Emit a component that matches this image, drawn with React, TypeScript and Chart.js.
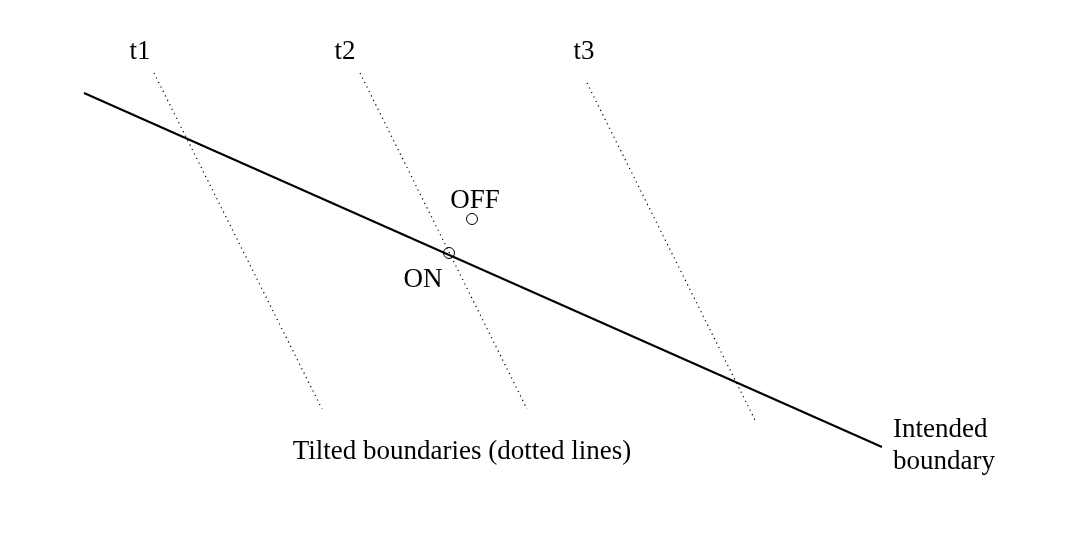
import React, { useEffect, useRef } from 'react';
import { Chart, registerables, Plugin } from 'chart.js';

Chart.register(...registerables);

// diagram space is the page itself: x 0..1092, y 0..544 (y grows downward)
const boundaryX = [84, 882];
const boundaryY = [93, 447];

const tilt1X = [154, 322];
const tilt1Y = [73, 409];
const tilt2X = [360, 527];
const tilt2Y = [73, 409];
const tilt3X = [587, 755];
const tilt3Y = [83, 420];

const pointNames = ['ON', 'OFF'];
const pointX = [449, 472];
const pointY = [253, 219];

const labelTexts = ['t1', 't2', 't3', 'OFF', 'ON', 'Tilted boundaries (dotted lines)', 'Intended', 'boundary'];
const labelX = [140, 345, 584, 475, 423, 462, 893, 893];
const labelY = [59, 59, 59, 208, 287, 459, 437, 469];
const labelAlign: CanvasTextAlign[] = ['center', 'center', 'center', 'center', 'center', 'center', 'left', 'left'];

const toPoints = (xs: number[], ys: number[]) => xs.map((x, i) => ({ x, y: ys[i] }));

const labelsPlugin: Plugin = {
  id: 'diagramLabels',
  afterDatasetsDraw(chart) {
    const { ctx, scales } = chart;
    ctx.save();
    ctx.fillStyle = '#000';
    ctx.font = '27px "Liberation Serif", "Times New Roman", serif';
    ctx.textBaseline = 'alphabetic';
    labelTexts.forEach((t, i) => {
      ctx.textAlign = labelAlign[i];
      ctx.fillText(t, scales.x.getPixelForValue(labelX[i]), scales.y.getPixelForValue(labelY[i]));
    });
    ctx.restore();
  },
};

const dotted = (xs: number[], ys: number[]) => ({
  data: toPoints(xs, ys),
  showLine: true,
  borderColor: '#000',
  borderWidth: 1.2,
  borderDash: [1.2, 3.8],
  pointRadius: 0,
});

const App: React.FC = () => {
  const canvasRef = useRef<HTMLCanvasElement | null>(null);
  const chartRef = useRef<Chart | null>(null);

  useEffect(() => {
    document.body.style.margin = '0';
    if (!canvasRef.current) return;
    if (chartRef.current) chartRef.current.destroy();

    chartRef.current = new Chart(canvasRef.current, {
      type: 'scatter',
      data: {
        datasets: [
          {
            data: toPoints(boundaryX, boundaryY),
            showLine: true,
            borderColor: '#000',
            borderWidth: 2,
            pointRadius: 0,
          },
          dotted(tilt1X, tilt1Y),
          dotted(tilt2X, tilt2Y),
          dotted(tilt3X, tilt3Y),
          {
            label: pointNames.join('/'),
            data: toPoints(pointX, pointY),
            showLine: false,
            pointStyle: 'circle',
            pointRadius: 5.5,
            pointBorderWidth: 1,
            pointBorderColor: '#000',
            pointBackgroundColor: 'rgba(0,0,0,0)',
          },
        ],
      },
      options: {
        animation: false,
        responsive: false,
        layout: { padding: 0, autoPadding: false },
        scales: {
          x: { type: 'linear', min: 0, max: 1092, display: false },
          y: { type: 'linear', min: 0, max: 544, reverse: true, display: false },
        },
        plugins: {
          legend: { display: false },
          tooltip: { enabled: false },
        },
      },
      plugins: [labelsPlugin],
    });

    return () => {
      if (chartRef.current) {
        chartRef.current.destroy();
        chartRef.current = null;
      }
    };
  }, []);

  return (
    <div style={{ width: 1092, height: 544, background: '#fff' }}>
      <canvas ref={canvasRef} width={1092} height={544} />
    </div>
  );
};

export default App;
